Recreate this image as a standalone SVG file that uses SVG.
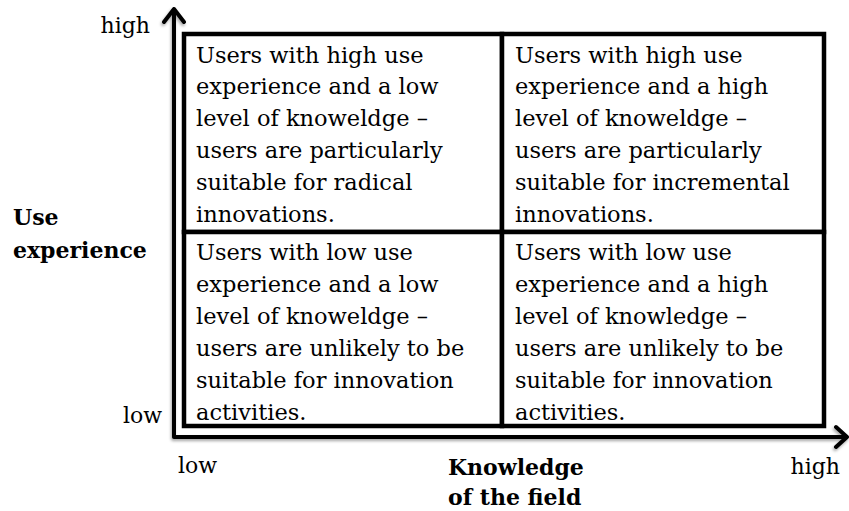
<svg xmlns="http://www.w3.org/2000/svg" width="849" height="511" viewBox="0 0 849 511">
<defs>
<style>
.cell{fill:#fff;stroke:#000;stroke-width:4.5}
.ct{font-family:"DejaVu Serif","Liberation Serif",serif;font-size:22.5px;fill:#000}
.lbl{font-family:"DejaVu Serif","Liberation Serif",serif;font-size:22px;fill:#000}
.bold{font-family:"DejaVu Serif","Liberation Serif",serif;font-size:22px;font-weight:bold;fill:#000}
.axis{fill:none;stroke:#000;stroke-width:4;stroke-linecap:round;stroke-linejoin:round}
</style>
<filter id="sh" x="-5%" y="-5%" width="110%" height="115%">
<feDropShadow dx="-1" dy="2" stdDeviation="1.5" flood-color="#000" flood-opacity="0.35"/>
</filter>
</defs>
<rect width="849" height="511" fill="#fff"/>
<g id="connectors">
<g filter="url(#sh)">
<path class="axis" d="M174 436 L174 9 M164 22 L174 9 L184 22"/>
<path class="axis" d="M174 437 L847 437 M836 427 L847 437 L836 447"/>
</g>
</g>
<g id="q-tl">
<rect class="cell" x="184" y="34" width="318" height="198"/>
<text class="ct" x="196" y="62.5">Users with high use</text>
<text class="ct" x="196" y="94.3">experience and a low</text>
<text class="ct" x="196" y="126.1">level of knoweldge –</text>
<text class="ct" x="196" y="157.9">users are particularly</text>
<text class="ct" x="196" y="189.7">suitable for radical</text>
<text class="ct" x="196" y="221.5">innovations.</text>
</g>
<g id="q-tr">
<rect class="cell" x="502" y="34" width="322" height="198"/>
<text class="ct" x="515" y="62.5">Users with high use</text>
<text class="ct" x="515" y="94.3">experience and a high</text>
<text class="ct" x="515" y="126.1">level of knoweldge –</text>
<text class="ct" x="515" y="157.9">users are particularly</text>
<text class="ct" x="515" y="189.7">suitable for incremental</text>
<text class="ct" x="515" y="221.5">innovations.</text>
</g>
<g id="q-bl">
<rect class="cell" x="184" y="232" width="318" height="194"/>
<text class="ct" x="196" y="260">Users with low use</text>
<text class="ct" x="196" y="292">experience and a low</text>
<text class="ct" x="196" y="324">level of knoweldge –</text>
<text class="ct" x="196" y="356">users are unlikely to be</text>
<text class="ct" x="196" y="388">suitable for innovation</text>
<text class="ct" x="196" y="420">activities.</text>
</g>
<g id="q-br">
<rect class="cell" x="502" y="232" width="322" height="194"/>
<text class="ct" x="515" y="260">Users with low use</text>
<text class="ct" x="515" y="292">experience and a high</text>
<text class="ct" x="515" y="324">level of knowledge –</text>
<text class="ct" x="515" y="356">users are unlikely to be</text>
<text class="ct" x="515" y="388">suitable for innovation</text>
<text class="ct" x="515" y="420">activities.</text>
</g>
<g id="y-axis-labels">
<text class="lbl" x="150" y="33" text-anchor="end">high</text>
<text class="lbl" x="162" y="423" text-anchor="end">low</text>
<text class="bold" x="13" y="225">Use</text>
<text class="bold" x="13" y="258">experience</text>
</g>
<g id="x-axis-labels">
<text class="lbl" x="178" y="473">low</text>
<text class="lbl" x="840" y="474" text-anchor="end">high</text>
<text class="bold" x="448" y="475">Knowledge</text>
<text class="bold" x="448" y="505">of the field</text>
</g>
</svg>
